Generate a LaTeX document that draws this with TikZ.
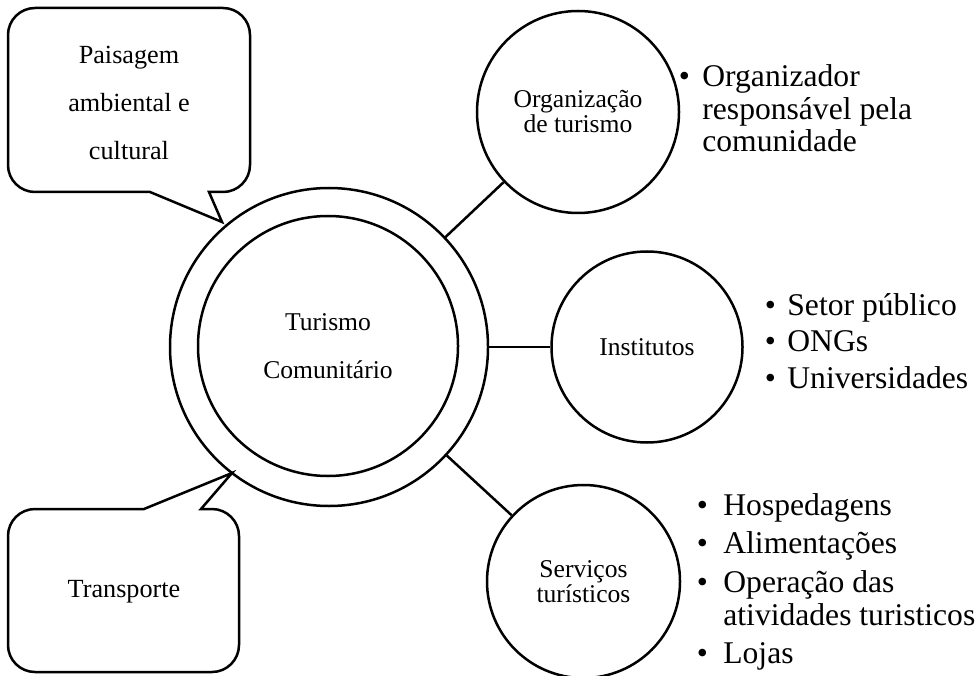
\documentclass[tikz,border=0pt]{standalone}
\usepackage{fontspec}
\setmainfont{Liberation Serif}
\begin{document}
\begin{tikzpicture}[x=0.5pt,y=0.5pt,
  ring/.style={draw, circle, line width=1.25pt, inner sep=0pt, align=center,
    font=\fontsize{12.8}{12.5}\selectfont},
  link/.style={line width=1.25pt},
  bubble/.style={draw, line width=1.25pt, line join=miter},
  bubbletext/.style={align=center, inner sep=0pt, font=\fontsize{13.1}{24}\selectfont},
  itemlist/.style={anchor=base west, inner sep=0pt, font=\fontsize{15.8}{16.25}\selectfont}
]
\useasboundingbox (0,0) rectangle (977,675);

% central double ring
\node[ring, minimum size=159pt] (outer) at (329,328) {};
\node[ring, minimum size=130pt, font=\fontsize{12.8}{24}\selectfont] (inner) at (328,329)
  {Turismo\\Comunitário};

% satellite circles
\node[ring, minimum size=101pt] (org) at (578,563) {Organização\\de turismo};
\node[ring, minimum size=95.5pt] (inst) at (647,328) {Institutos};
\node[ring, minimum size=96.5pt] (serv) at (583.5,93.5) {Serviços\\turísticos};

\draw[link] (outer) -- (org);
\draw[link] (outer) -- (inst);
\draw[link] (outer) -- (serv);

% speech bubble, upper left
\draw[bubble] (150,483) -- (222,453) -- (209,483) -- (223,483)
  arc[start angle=-90, end angle=0, radius=27] -- (250,640)
  arc[start angle=0, end angle=90, radius=27] -- (35,667)
  arc[start angle=90, end angle=180, radius=27] -- (8,510)
  arc[start angle=180, end angle=270, radius=27] -- cycle;
\node[bubbletext] (landscape) at (129,572) {Paisagem\\ambiental e\\cultural};

% speech bubble, lower left
\draw[bubble] (144,166) -- (232,202) -- (201,166) -- (212,166)
  arc[start angle=90, end angle=0, radius=27] -- (239,30)
  arc[start angle=0, end angle=-90, radius=27] -- (35,3)
  arc[start angle=270, end angle=180, radius=27] -- (8,139)
  arc[start angle=180, end angle=90, radius=27] -- cycle;
\node[bubbletext] (transport) at (124,83) {Transporte};

% bullet lists
\node[itemlist] (orglist) at (702,588) {\begin{tabular}[t]{@{}l@{}}
  \llap{\textbullet\hspace{6.3pt}}Organizador\\
  responsável pela\\
  comunidade
\end{tabular}};

\node[itemlist, font=\fontsize{15.8}{18.3}\selectfont] (instlist) at (787,360) {\begin{tabular}[t]{@{}l@{}}
  \llap{\textbullet\hspace{5.8pt}}Setor público\\
  \llap{\textbullet\hspace{5.8pt}}ONGs\\
  \llap{\textbullet\hspace{5.8pt}}Universidades
\end{tabular}};

\node[itemlist, font=\fontsize{15.8}{16.5}\selectfont] (servlist) at (723,160) {\begin{tabular}[t]{@{}l@{}}
  \llap{\textbullet\hspace{7.8pt}}Hospedagens\\[2.75pt]
  \llap{\textbullet\hspace{7.8pt}}Alimentações\\[2.75pt]
  \llap{\textbullet\hspace{7.8pt}}Operação das\\
  atividades turisticos\\[2.75pt]
  \llap{\textbullet\hspace{7.8pt}}Lojas
\end{tabular}};
\end{tikzpicture}
\end{document}
